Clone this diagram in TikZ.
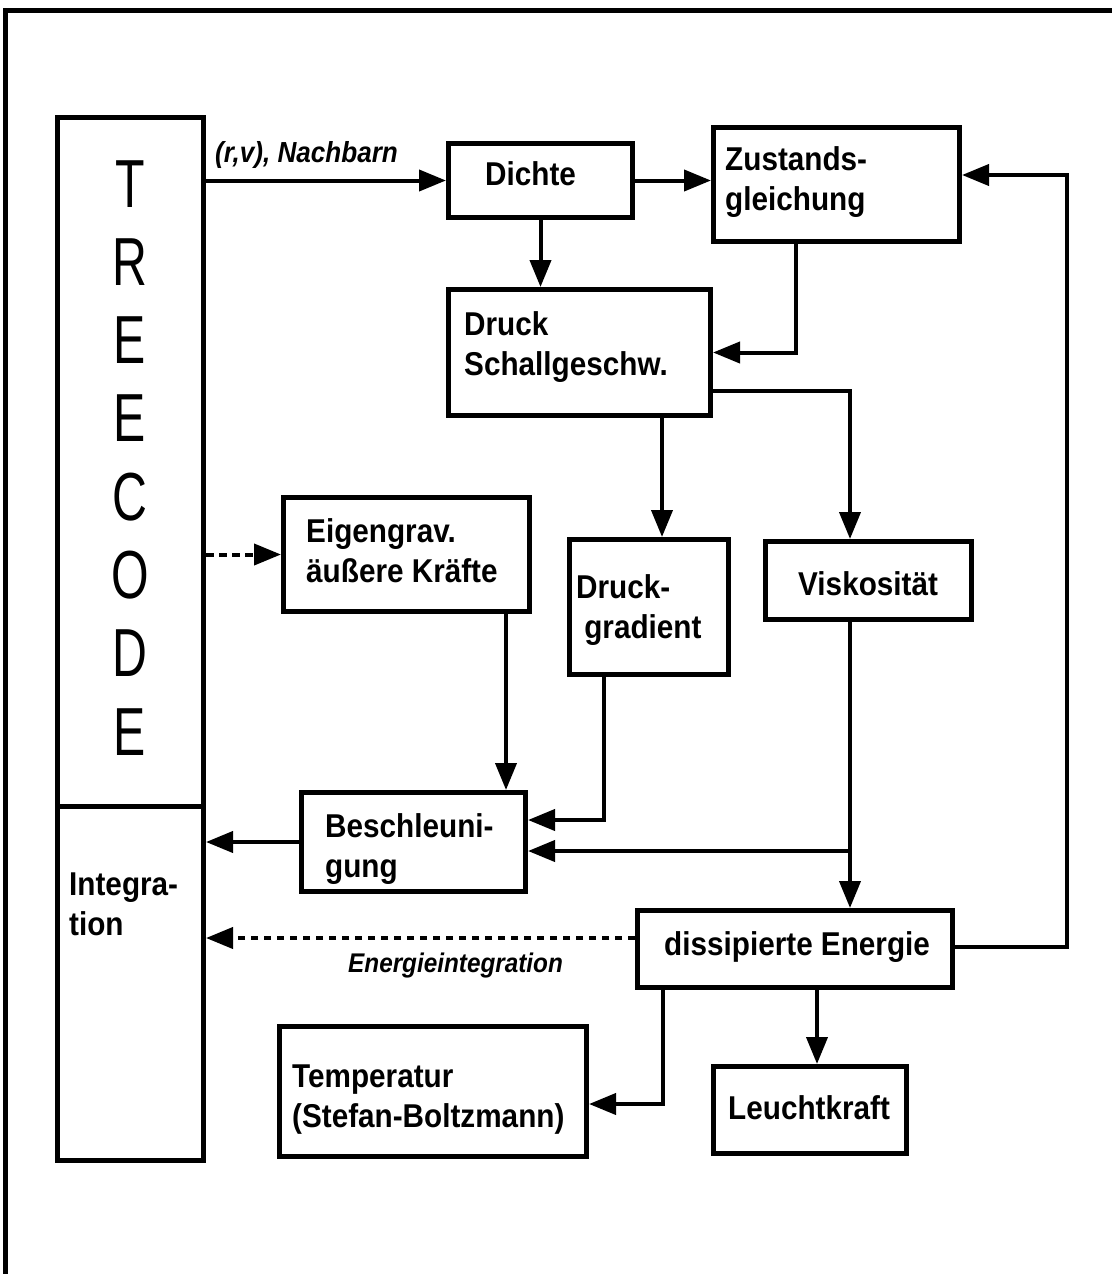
\documentclass[tikz,border=0pt]{standalone}
\usepackage{fontspec}
\setmainfont{Liberation Sans}
\usepackage{graphicx}
\usetikzlibrary{arrows.meta,calc}
\newcommand\sq[1]{\scalebox{0.9}[1]{#1}}
\begin{document}
\begin{tikzpicture}[x=1pt,y=-1pt,
  box/.style={draw, line width=5pt, inner sep=0pt, anchor=north west},
  lbl/.style={inner sep=0pt, anchor=base west, font=\fontsize{33}{40}\selectfont\bfseries},
  ilbl/.style={inner sep=0pt, anchor=base west, font=\bfseries\itshape},
  arr/.style={line width=4pt, -{Triangle[length=27pt,width=21pt]}},
  dsh/.style={dash pattern=on 7.5pt off 5.5pt}]
\useasboundingbox (0,0) rectangle (1111,1274);
\fill[white] (0,0) rectangle (1111,1274);
% outer frame
\draw[line width=5pt] (5,1290) -- (5,10) -- (1130,10);

% boxes
\node[box, minimum width=146pt, minimum height=688.5pt] (treecode) at (55,115) {};
\node[box, minimum width=146pt, minimum height=354.5pt] (integ) at (55,803.5) {};
\node[box, minimum width=184pt, minimum height=74pt] (dichte) at (446,141) {};
\node[box, minimum width=246pt, minimum height=114pt] (zust) at (711,125) {};
\node[box, minimum width=262pt, minimum height=126pt] (druck) at (446,287) {};
\node[box, minimum width=246pt, minimum height=114pt] (eigen) at (281,495) {};
\node[box, minimum width=159pt, minimum height=135pt] (dgrad) at (567,537) {};
\node[box, minimum width=206pt, minimum height=78pt] (visk) at (763,539) {};
\node[box, minimum width=224pt, minimum height=99pt] (beschl) at (299,790) {};
\node[box, minimum width=315pt, minimum height=77pt] (diss) at (635,908) {};
\node[box, minimum width=307pt, minimum height=130pt] (temp) at (277,1024) {};
\node[box, minimum width=193pt, minimum height=87pt] (leucht) at (711,1064) {};

% texts
\node[inner sep=0pt, anchor=base, font=\fontsize{68}{78.3}\selectfont] (tTree) at (130,207)
  {\scalebox{0.71}[1]{\begin{tabular}[t]{@{}c@{}}T\\R\\E\\E\\C\\O\\D\\E\end{tabular}}};
\node[lbl] (tDichte) at (485,185) {\sq{Dichte}};
\node[lbl] (tZust) at (725,170) {\sq{\begin{tabular}[t]{@{}l@{}}Zustands-\\gleichung\end{tabular}}};
\node[lbl] (tDruck) at (464,335) {\sq{\begin{tabular}[t]{@{}l@{}}Druck\\Schallgeschw.\end{tabular}}};
\node[lbl] (tEigen) at (306,542) {\sq{\begin{tabular}[t]{@{}l@{}}Eigengrav.\\äußere Kräfte\end{tabular}}};
\node[lbl] (tDgrad) at (576,598) {\sq{\begin{tabular}[t]{@{}l@{}}Druck-\\\hspace*{9pt}gradient\end{tabular}}};
\node[lbl] (tVisk) at (798,595) {\sq{Viskosität}};
\node[lbl] (tBeschl) at (325,837) {\sq{\begin{tabular}[t]{@{}l@{}}Beschleuni-\\gung\end{tabular}}};
\node[lbl] (tInteg) at (69,895) {\sq{\begin{tabular}[t]{@{}l@{}}Integra-\\tion\end{tabular}}};
\node[lbl] (tDiss) at (664,955) {\sq{dissipierte Energie}};
\node[lbl] (tTemp) at (292,1087) {\sq{\begin{tabular}[t]{@{}l@{}}Temperatur\\(Stefan-Boltzmann)\end{tabular}}};
\node[lbl] (tLeucht) at (728,1119) {\sq{Leuchtkraft}};
\node[ilbl, font=\fontsize{29}{34}\selectfont\bfseries\itshape] (tNach) at (215,162) {\sq{(r,v), Nachbarn}};
\node[ilbl, font=\fontsize{27}{32}\selectfont\bfseries\itshape] (tEnerg) at (348,972) {\sq{Energieintegration}};

% helper coordinates
\coordinate (zs) at ([xshift=85pt]zust.south west);
\coordinate (dre) at ([yshift=-38.5pt]druck.east);
\coordinate (vn) at ([xshift=87pt]visk.north west);
\coordinate (ds) at ([xshift=216pt]druck.south west);
\coordinate (es) at ([xshift=225pt]eigen.south west);
\coordinate (gs) at ([xshift=37pt]dgrad.south west);
\coordinate (b1) at ([yshift=22pt]beschl.east);
\coordinate (b2) at ([yshift=-9pt]beschl.east);
\coordinate (vs) at ([xshift=87pt]visk.south west);
\coordinate (dw) at ([yshift=11pt]diss.west);
\coordinate (de) at ([yshift=2pt]diss.east);
\coordinate (ze) at ([yshift=9.5pt]zust.east);
\coordinate (rc) at (1067,0);
\coordinate (dl) at ([xshift=182pt]diss.south west);
\coordinate (dt) at ([xshift=28pt]diss.south west);
\coordinate (te) at ([yshift=-12.5pt]temp.east);

% connectors
\draw[arr] (treecode.east |- dichte.west) -- (dichte.west);
\draw[arr] (dichte.east) -- (dichte.east -| zust.west);
\draw[arr] (dichte.south) -- (dichte.south |- druck.north);
\draw[arr] (zs) |- (druck.east);
\draw[arr] (dre) -| (vn);
\draw[arr] (ds) -- (ds |- dgrad.north);
\draw[arr, dsh] (treecode.east |- eigen.west) -- (eigen.west);
\draw[arr] (es) -- (es |- beschl.north);
\draw[arr] (gs) |- (b1);
\draw[arr] (vs) -- (vs |- diss.north);
\draw[arr] (b2 -| vs) -- (b2);
\draw[arr] (beschl.west) -- (beschl.west -| integ.east);
\draw[arr, dsh] (dw) -- (dw -| integ.east);
\draw[arr] (de) -- (de -| rc) -- (ze -| rc) -- (ze);
\draw[arr] (dl) -- (dl |- leucht.north);
\draw[arr] (dt) |- (te);
\end{tikzpicture}
\end{document}
